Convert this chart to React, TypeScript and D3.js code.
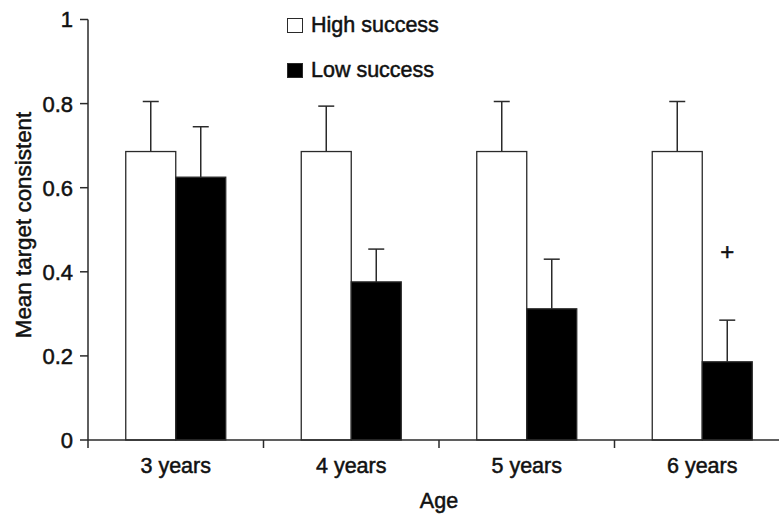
import React, { useEffect, useRef } from "react";
import * as d3 from "d3";

// Data
const ages = ["3 years", "4 years", "5 years", "6 years"];
const highSuccess = [0.686, 0.686, 0.686, 0.686];
const highSuccessErr = [0.805, 0.794, 0.805, 0.805];
const lowSuccess = [0.625, 0.376, 0.312, 0.186];
const lowSuccessErr = [0.745, 0.454, 0.43, 0.285];
const yTicks = [0, 0.2, 0.4, 0.6, 0.8, 1];

const App = () => {
  const svgRef = useRef<SVGSVGElement>(null);

  useEffect(() => {
    const width = 779;
    const height = 514;
    const margin = { top: 19.5, right: -11, bottom: 74, left: 88 };
    const font = "'Liberation Sans', Arial, Helvetica, sans-serif";
    const ink = "#2a2a2a";
    const fs = "21.5px";

    const svg = d3.select(svgRef.current);
    svg.selectAll("*").remove();
    svg.attr("width", width).attr("height", height);

    // shared text style, slightly heavier than regular like the scan
    const label = (sel: any) =>
      sel
        .style("font-family", font)
        .style("font-size", fs)
        .style("fill", "#111")
        .style("stroke", "#111")
        .style("stroke-width", "0.5px");

    const x0 = d3
      .scaleBand()
      .domain(ages)
      .range([margin.left, width - margin.right]);
    const barW = 50;
    const y = d3
      .scaleLinear()
      .domain([0, 1])
      .range([height - margin.bottom, margin.top]);
    const y0 = y(0);

    // bars
    const groups = svg
      .append("g")
      .selectAll("g")
      .data(ages)
      .enter()
      .append("g")
      .attr("transform", (d) => `translate(${x0(d)! + x0.bandwidth() / 2 - barW},0)`);

    const series = [
      { vals: highSuccess, errs: highSuccessErr, fill: "#ffffff", off: 0 },
      { vals: lowSuccess, errs: lowSuccessErr, fill: "#000000", off: barW },
    ];

    series.forEach((s) => {
      // error bar first so the bar covers its foot
      groups
        .append("line")
        .attr("x1", s.off + barW / 2)
        .attr("x2", s.off + barW / 2)
        .attr("y1", (_, i) => y(s.vals[i]))
        .attr("y2", (_, i) => y(s.errs[i]))
        .attr("stroke", ink)
        .attr("stroke-width", 1.5);
      groups
        .append("line")
        .attr("x1", s.off + barW / 2 - 8)
        .attr("x2", s.off + barW / 2 + 8)
        .attr("y1", (_, i) => y(s.errs[i]))
        .attr("y2", (_, i) => y(s.errs[i]))
        .attr("stroke", ink)
        .attr("stroke-width", 1.5);
      groups
        .append("rect")
        .attr("x", s.off)
        .attr("y", (_, i) => y(s.vals[i]))
        .attr("width", barW)
        .attr("height", (_, i) => y0 - y(s.vals[i]))
        .attr("fill", s.fill)
        .attr("stroke", ink)
        .attr("stroke-width", 1.3);
    });

    // plus marker above 6 years low bar
    svg
      .append("text")
      .attr("x", x0("6 years")! + x0.bandwidth() / 2 + barW / 2)
      .attr("y", y(0.43) + 1)
      .attr("text-anchor", "middle")
      .call(label)
      .style("font-size", "24px")
      .text("+");

    // y axis
    svg
      .append("line")
      .attr("x1", margin.left)
      .attr("x2", margin.left)
      .attr("y1", y(1))
      .attr("y2", y0 + 8)
      .attr("stroke", ink)
      .attr("stroke-width", 1.5);
    yTicks.forEach((t) => {
      svg
        .append("line")
        .attr("x1", margin.left - 8)
        .attr("x2", margin.left)
        .attr("y1", y(t))
        .attr("y2", y(t))
        .attr("stroke", ink)
        .attr("stroke-width", 1.5);
      svg
        .append("text")
        .attr("x", margin.left - 15)
        .attr("y", y(t))
        .attr("dy", "0.36em")
        .attr("text-anchor", "end")
        .call(label)
        .style("font-size", "22px")
        .text(d3.format("~g")(t));
    });

    // x axis
    svg
      .append("line")
      .attr("x1", margin.left)
      .attr("x2", width)
      .attr("y1", y0)
      .attr("y2", y0)
      .attr("stroke", ink)
      .attr("stroke-width", 1.5);
    ages.forEach((a) => {
      svg
        .append("line")
        .attr("x1", x0(a)! + x0.bandwidth())
        .attr("x2", x0(a)! + x0.bandwidth())
        .attr("y1", y0)
        .attr("y2", y0 + 8)
        .attr("stroke", ink)
        .attr("stroke-width", 1.5);
      svg
        .append("text")
        .attr("x", x0(a)! + x0.bandwidth() / 2)
        .attr("y", y0 + 33)
        .attr("text-anchor", "middle")
        .call(label)
        .text(a);
    });

    // axis titles
    svg
      .append("text")
      .attr("x", (margin.left + width - margin.right) / 2)
      .attr("y", 508)
      .attr("text-anchor", "middle")
      .call(label)
      .text("Age");
    svg
      .append("text")
      .attr("transform", `translate(31,225) rotate(-90)`)
      .attr("text-anchor", "middle")
      .call(label)
      .style("font-size", "22.4px")
      .text("Mean target consistent");

    // legend
    const legend = svg.append("g").attr("transform", "translate(287,18)");
    [
      { label: "High success", fill: "#ffffff" },
      { label: "Low success", fill: "#000000" },
    ].forEach((l, i) => {
      legend
        .append("rect")
        .attr("x", 0.5)
        .attr("y", i * 45 + 0.5)
        .attr("width", 15)
        .attr("height", 14)
        .attr("fill", l.fill)
        .attr("stroke", ink)
        .attr("stroke-width", 1);
      legend
        .append("text")
        .attr("x", 24)
        .attr("y", i * 45 + 14)
        .call(label)
        .text(l.label);
    });
  }, []);

  return (
    <svg
      ref={svgRef}
      style={{ position: "absolute", left: 0, top: 0, display: "block", background: "#fff" }}
    />
  );
};

export default App;
